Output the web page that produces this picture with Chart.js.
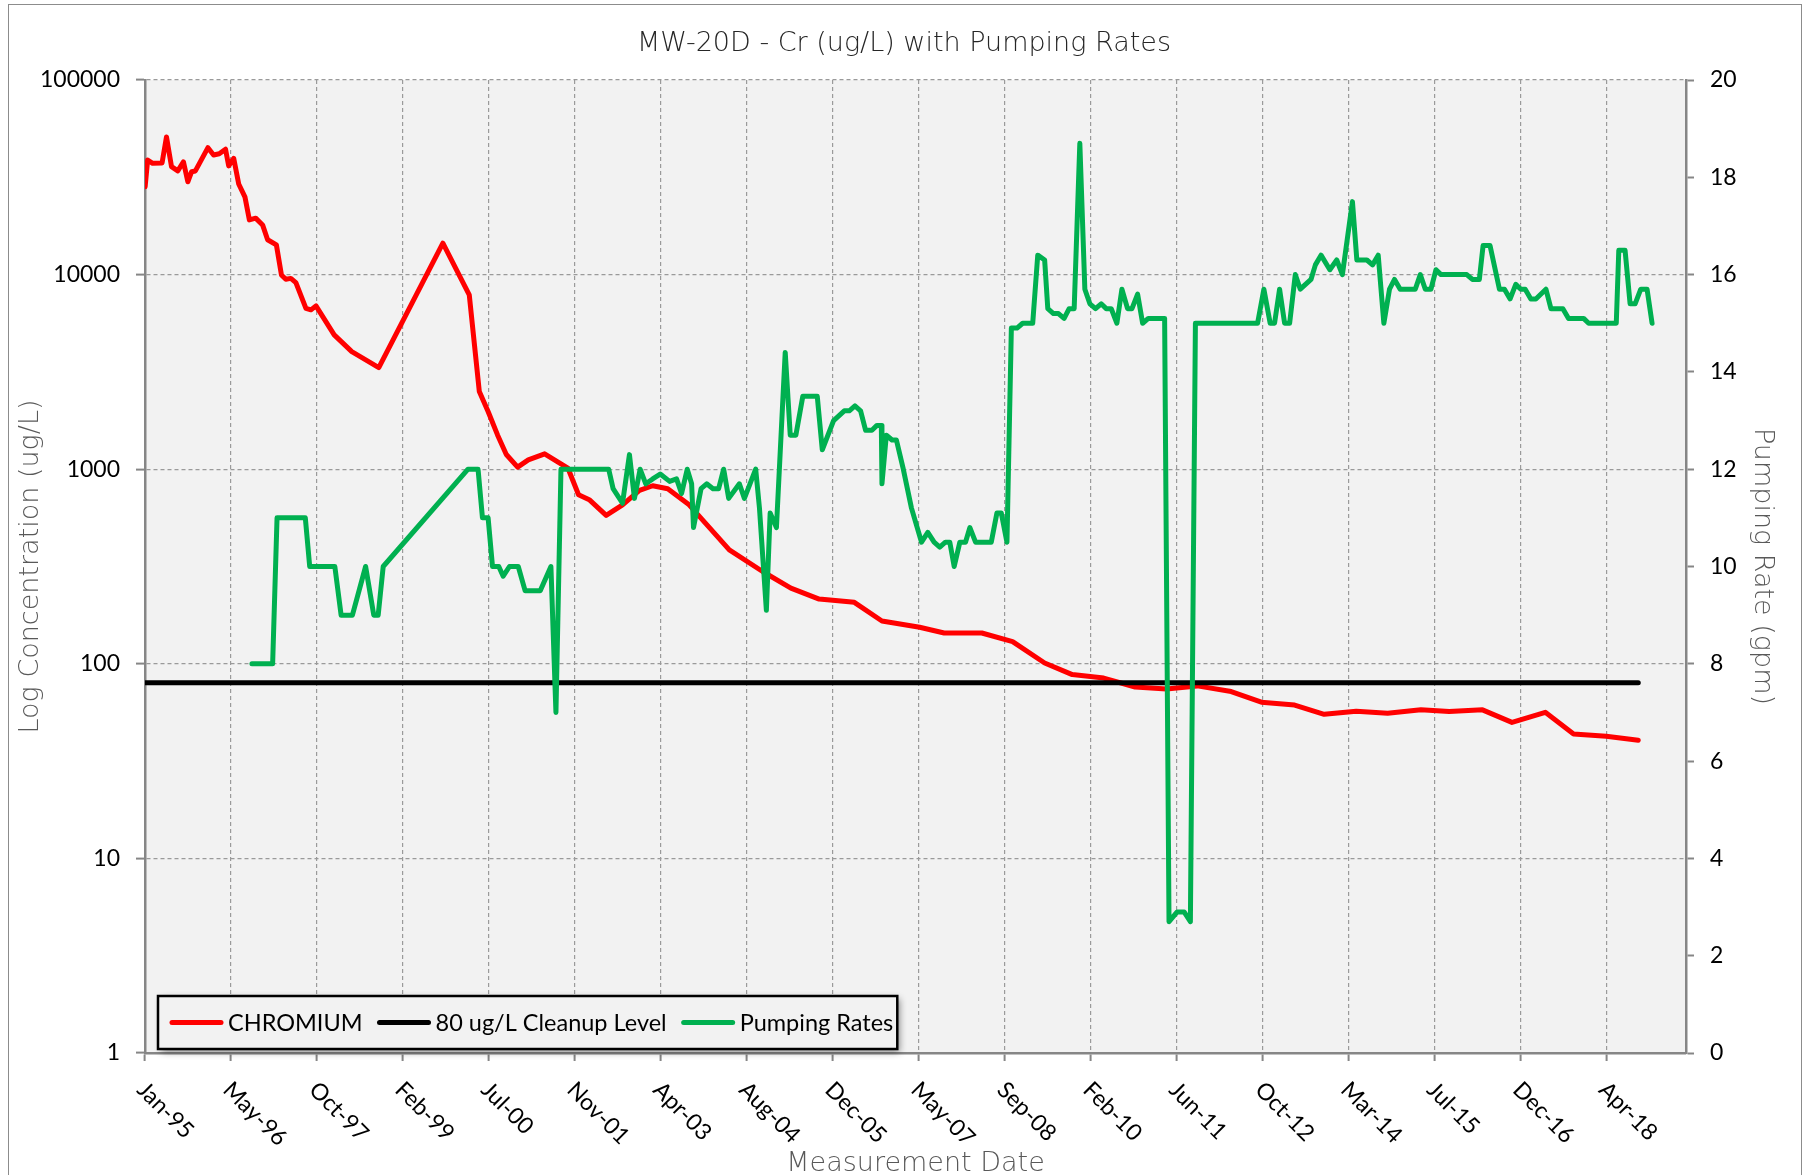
<!DOCTYPE html>
<html>
<head>
<meta charset="utf-8">
<title>MW-20D - Cr (ug/L) with Pumping Rates</title>
<script src="https://cdn.jsdelivr.net/npm/chart.js@4.4.0/dist/chart.umd.min.js"></script>
<style>
    html, body { margin: 0; padding: 0; background: #fff; }
    #wrap { width: 1808px; height: 1175px; }
</style>
</head>
<body>
<div id="wrap"><canvas id="crChart" width="1808" height="1175"></canvas></div>
<script>
/**
 * MW-20D chromium concentration vs. pumping rate
 * x values are decimal years
 */

// date axis: Excel style, major unit 500 days starting mid Jan 1995
const xTickLabels = ['Jan-95', 'May-96', 'Oct-97', 'Feb-99', 'Jul-00', 'Nov-01', 'Apr-03', 'Aug-04', 'Dec-05',
    'May-07', 'Sep-08', 'Feb-10', 'Jun-11', 'Oct-12', 'Mar-14', 'Jul-15', 'Dec-16', 'Apr-18'];
const X_START = 1995.038;
const X_STEP = 500 / 365.25;
const X_END = 2019.57;

// left axis (log) and right axis ticks
const concTicks = [1, 10, 100, 1000, 10000, 100000];
const rateMin = 0;
const rateMax = 20;
const rateStep = 2;

// CHROMIUM (ug/L)
const crYears = [
    1995.04, 1995.08, 1995.16, 1995.31, 1995.38, 1995.46, 1995.56, 1995.65, 1995.72, 1995.78,
    1995.84, 1996.04, 1996.13, 1996.22, 1996.32, 1996.37, 1996.45, 1996.53, 1996.63, 1996.70,
    1996.80, 1996.91, 1996.99, 1997.13, 1997.21, 1997.28, 1997.36, 1997.44, 1997.60, 1997.68,
    1997.76, 1998.05, 1998.33, 1998.76, 1999.78, 2000.20, 2000.36, 2000.50, 2000.65, 2000.79,
    2000.97, 2001.14, 2001.40, 2001.77, 2001.94, 2002.11, 2002.38, 2002.64, 2002.91, 2003.12,
    2003.36, 2003.70, 2004.34, 2004.87, 2005.32, 2005.77, 2006.33, 2006.77, 2007.37, 2007.76,
    2008.36, 2008.85, 2009.36, 2009.80, 2010.30, 2010.80, 2011.30, 2011.79, 2012.33, 2012.81,
    2013.34, 2013.81, 2014.32, 2014.82, 2015.35, 2015.80, 2016.33, 2016.80, 2017.33, 2017.78,
    2018.30, 2018.81
];
const crValues = [
    28300, 38800, 37300, 37500, 51000, 35900, 34100, 38000, 30000, 33800,
    34100, 44900, 41200, 41800, 44100, 36200, 39600, 29200, 25000, 19100,
    19500, 18000, 15100, 14200, 9960, 9460, 9560, 9100, 6710, 6590,
    6910, 4900, 4020, 3330, 14500, 7870, 2510, 1980, 1500, 1190,
    1025, 1117, 1200, 1014, 739, 697, 579, 656, 778, 822,
    793, 656, 385, 298, 245, 215, 207, 166, 154, 144,
    144, 130, 101, 88, 84.5, 76, 74.3, 77, 72, 63.5,
    61.4, 55, 57, 55.7, 58, 56.8, 58, 50, 56.3, 43.6,
    42.4, 40.5
];

// 80 ug/L cleanup level
const cleanupYears = [1995.04, 2018.81];
const cleanupValues = [80, 80];

// Pumping Rates (gpm)
const pumpYears = [
    1996.74, 1997.07, 1997.14, 1997.59, 1997.66, 1998.06, 1998.16, 1998.34, 1998.55, 1998.68,
    1998.75, 1998.83, 2000.18, 2000.34, 2000.41, 2000.50, 2000.57, 2000.67, 2000.74, 2000.84,
    2000.98, 2001.09, 2001.33, 2001.50, 2001.58, 2001.66, 2002.42, 2002.49, 2002.64, 2002.75,
    2002.83, 2002.92, 2003.01, 2003.12, 2003.24, 2003.39, 2003.50, 2003.58, 2003.67, 2003.74,
    2003.77, 2003.89, 2003.98, 2004.08, 2004.17, 2004.25, 2004.33, 2004.50, 2004.58, 2004.76,
    2004.82, 2004.93, 2004.99, 2005.09, 2005.23, 2005.31, 2005.40, 2005.51, 2005.74, 2005.82,
    2006.00, 2006.17, 2006.25, 2006.34, 2006.43, 2006.51, 2006.61, 2006.69, 2006.76, 2006.77,
    2006.84, 2006.93, 2007.00, 2007.11, 2007.24, 2007.40, 2007.50, 2007.60, 2007.69, 2007.78,
    2007.85, 2007.92, 2008.01, 2008.10, 2008.17, 2008.26, 2008.51, 2008.60, 2008.67, 2008.76,
    2008.83, 2008.92, 2009.01, 2009.17, 2009.25, 2009.36, 2009.41, 2009.50, 2009.58, 2009.67,
    2009.75, 2009.83, 2009.92, 2010.00, 2010.08, 2010.17, 2010.26, 2010.34, 2010.42, 2010.51,
    2010.59, 2010.68, 2010.75, 2010.84, 2010.92, 2011.01, 2011.27, 2011.34, 2011.47, 2011.58,
    2011.68, 2011.76, 2012.75, 2012.85, 2012.95, 2013.02, 2013.10, 2013.18, 2013.26, 2013.35,
    2013.43, 2013.60, 2013.67, 2013.76, 2013.90, 2014.01, 2014.10, 2014.26, 2014.33, 2014.49,
    2014.58, 2014.67, 2014.76, 2014.85, 2014.93, 2015.02, 2015.26, 2015.34, 2015.42, 2015.51,
    2015.59, 2015.67, 2016.08, 2016.17, 2016.28, 2016.34, 2016.45, 2016.60, 2016.68, 2016.77,
    2016.86, 2016.94, 2017.01, 2017.10, 2017.18, 2017.34, 2017.42, 2017.61, 2017.70, 2017.94,
    2018.02, 2018.46, 2018.50, 2018.60, 2018.68, 2018.76, 2018.85, 2018.95, 2019.03
];
const pumpRates = [
    8, 8, 11, 11, 10, 10, 9, 9, 10, 9,
    9, 10, 12, 12, 11, 11, 10, 10, 9.8, 10,
    10, 9.5, 9.5, 10, 7, 12, 12, 11.6, 11.3, 12.3,
    11.4, 12, 11.7, 11.8, 11.9, 11.75, 11.8, 11.5, 12, 11.7,
    10.8, 11.6, 11.7, 11.6, 11.6, 12, 11.4, 11.7, 11.4, 12,
    11.2, 9.1, 11.1, 10.8, 14.4, 12.7, 12.7, 13.5, 13.5, 12.4,
    13.0, 13.2, 13.2, 13.3, 13.2, 12.8, 12.8, 12.9, 12.9, 11.7,
    12.7, 12.6, 12.6, 12.0, 11.2, 10.5, 10.7, 10.5, 10.4, 10.5,
    10.5, 10.0, 10.5, 10.5, 10.8, 10.5, 10.5, 11.1, 11.1, 10.5,
    14.9, 14.9, 15, 15, 16.4, 16.3, 15.3, 15.2, 15.2, 15.1,
    15.3, 15.3, 18.7, 15.7, 15.4, 15.3, 15.4, 15.3, 15.3, 15,
    15.7, 15.3, 15.3, 15.6, 15, 15.1, 15.1, 2.7, 2.9, 2.9,
    2.7, 15, 15, 15.7, 15, 15, 15.7, 15, 15, 16,
    15.7, 15.9, 16.2, 16.4, 16.1, 16.3, 16, 17.5, 16.3, 16.3,
    16.2, 16.4, 15, 15.7, 15.9, 15.7, 15.7, 16, 15.7, 15.7,
    16.1, 16, 16, 15.9, 15.9, 16.6, 16.6, 15.7, 15.7, 15.5,
    15.8, 15.7, 15.7, 15.5, 15.5, 15.7, 15.3, 15.3, 15.1, 15.1,
    15, 15, 16.5, 16.5, 15.4, 15.4, 15.7, 15.7, 15
];

const AXIS_COLOR = '#868686';
const GRID_COLOR = '#9a9a9a';
const PLOT_BG = '#f2f2f2';
const TICK_FONT = { family: 'Lato', size: 23 };
const LEGEND_FONT = { family: 'Lato', size: 23.5 };
const AXIS_TITLE_FONT = { family: 'DejaVu Sans', size: 27, weight: '200' };
const AXIS_TITLE_COLOR = '#595959';

class ChromiumChart {
    constructor(canvasId) {
        this.canvas = document.getElementById(canvasId);
        this.chart = null;
    }

    /**
     * pair x/y arrays into {x, y} points
     */
    toPoints(xs, ys) {
        return xs.map((x, i) => ({ x: x, y: ys[i] }));
    }

    buildDatasets() {
        const common = {
            pointRadius: 0,
            borderWidth: 5,
            tension: 0,
            borderJoinStyle: 'round',
            borderCapStyle: 'round',
            fill: false
        };
        return [
            {
                ...common,
                label: 'CHROMIUM',
                data: this.toPoints(crYears, crValues),
                borderColor: '#ff0000',
                yAxisID: 'y',
                order: 3
            },
            {
                ...common,
                label: '80 ug/L Cleanup Level',
                data: this.toPoints(cleanupYears, cleanupValues),
                borderColor: '#000000',
                yAxisID: 'y',
                order: 2
            },
            {
                ...common,
                label: 'Pumping Rates',
                data: this.toPoints(pumpYears, pumpRates),
                borderColor: '#00b050',
                yAxisID: 'y1',
                order: 1
            }
        ];
    }

    /**
     * white page, thin outer frame and grey plot area
     */
    backgroundPlugin() {
        return {
            id: 'plotBackground',
            beforeDraw(chart) {
                const { ctx, chartArea } = chart;
                ctx.save();
                ctx.fillStyle = '#ffffff';
                ctx.fillRect(0, 0, chart.width, chart.height);
                ctx.strokeStyle = '#8c8c8c';
                ctx.lineWidth = 1;
                ctx.strokeRect(8.5, 4.5, 1793, chart.height + 10);
                ctx.fillStyle = PLOT_BG;
                ctx.fillRect(chartArea.left, chartArea.top,
                    chartArea.right - chartArea.left, chartArea.bottom - chartArea.top);
                ctx.restore();
            }
        };
    }

    /**
     * date labels, rotated 45 degrees downwards from each tick
     */
    xLabelPlugin() {
        return {
            id: 'xDateLabels',
            afterDraw(chart) {
                const { ctx } = chart;
                const scale = chart.scales.x;
                ctx.save();
                ctx.font = `${TICK_FONT.size}px ${TICK_FONT.family}`;
                ctx.fillStyle = '#000000';
                ctx.textAlign = 'left';
                ctx.textBaseline = 'middle';
                scale.ticks.forEach((tick, i) => {
                    const px = scale.getPixelForValue(tick.value);
                    ctx.save();
                    ctx.translate(px - 4, scale.top + 33);
                    ctx.rotate(Math.PI / 4);
                    ctx.fillText(xTickLabels[i], 0, 0);
                    ctx.restore();
                });
                ctx.restore();
            }
        };
    }

    /**
     * boxed legend sitting in the lower left corner of the plot
     */
    legendPlugin() {
        return {
            id: 'boxLegend',
            afterDraw(chart) {
                const { ctx, chartArea } = chart;
                const items = chart.data.datasets;
                const sample = 53;
                const gap = 5;
                const itemGap = 15;
                const padL = 12;
                const padR = 4;
                const height = 53;
                const left = chartArea.left + 13;
                const top = chartArea.bottom - 57;

                ctx.save();
                ctx.font = `${LEGEND_FONT.size}px ${LEGEND_FONT.family}`;
                let width = padL + padR;
                items.forEach((ds, i) => {
                    width += sample + gap + ctx.measureText(ds.label).width;
                    if (i < items.length - 1) width += itemGap;
                });

                ctx.shadowColor = 'rgba(0, 0, 0, 0.45)';
                ctx.shadowBlur = 7;
                ctx.shadowOffsetX = 3;
                ctx.shadowOffsetY = 3;
                ctx.fillStyle = PLOT_BG;
                ctx.fillRect(left, top, width, height);
                ctx.shadowColor = 'transparent';
                ctx.lineWidth = 2.5;
                ctx.strokeStyle = '#000000';
                ctx.strokeRect(left, top, width, height);

                const cy = top + height / 2;
                let x = left + padL;
                ctx.textAlign = 'left';
                ctx.textBaseline = 'middle';
                items.forEach(ds => {
                    ctx.beginPath();
                    ctx.lineWidth = 5;
                    ctx.lineCap = 'round';
                    ctx.strokeStyle = ds.borderColor;
                    ctx.moveTo(x + 2, cy);
                    ctx.lineTo(x + sample - 2, cy);
                    ctx.stroke();
                    x += sample + gap;
                    ctx.fillStyle = '#000000';
                    ctx.fillText(ds.label, x, cy + 1);
                    x += ctx.measureText(ds.label).width + itemGap;
                });
                ctx.restore();
            }
        };
    }

    render() {
        const ctx = this.canvas.getContext('2d');

        this.chart = new Chart(ctx, {
            type: 'line',
            data: { datasets: this.buildDatasets() },
            plugins: [this.backgroundPlugin(), this.xLabelPlugin(), this.legendPlugin()],
            options: {
                responsive: false,
                animation: false,
                devicePixelRatio: 1,
                layout: { padding: 0 },
                plugins: {
                    legend: { display: false },
                    tooltip: { enabled: false },
                    title: {
                        display: true,
                        text: 'MW-20D - Cr (ug/L) with Pumping Rates',
                        color: '#262626',
                        font: { family: 'DejaVu Sans', size: 27, weight: '200', lineHeight: 1.2 },
                        padding: { top: 27.5, bottom: 20.1 }
                    }
                },
                scales: {
                    x: {
                        type: 'linear',
                        min: X_START,
                        max: X_END,
                        afterBuildTicks: scale => {
                            scale.ticks = xTickLabels.map((label, i) => ({ value: X_START + i * X_STEP }));
                        },
                        afterFit: scale => { scale.height = 122; },
                        ticks: { display: false, autoSkip: false },
                        grid: {
                            color: GRID_COLOR,
                            lineWidth: 1.2,
                            tickLength: 8,
                            tickColor: AXIS_COLOR,
                            tickWidth: 2,
                            tickBorderDash: []
                        },
                        border: { display: true, color: AXIS_COLOR, width: 2.5, dash: [4, 3] },
                        title: {
                            display: true,
                            text: 'Measurement Date',
                            color: AXIS_TITLE_COLOR,
                            font: { ...AXIS_TITLE_FONT, lineHeight: 1 },
                            padding: { top: 0, bottom: -2 }
                        }
                    },
                    y: {
                        type: 'logarithmic',
                        position: 'left',
                        min: concTicks[0],
                        max: concTicks[concTicks.length - 1],
                        afterBuildTicks: scale => {
                            scale.ticks = concTicks.map(v => ({ value: v }));
                        },
                        afterFit: scale => { scale.width = 145; },
                        ticks: {
                            autoSkip: false,
                            color: '#000000',
                            font: TICK_FONT,
                            padding: 16,
                            callback: v => String(v)
                        },
                        grid: {
                            color: GRID_COLOR,
                            lineWidth: 1.2,
                            tickLength: 9,
                            tickColor: AXIS_COLOR,
                            tickWidth: 2,
                            tickBorderDash: []
                        },
                        border: { display: true, color: AXIS_COLOR, width: 2.5, dash: [4, 3] },
                        title: {
                            display: true,
                            text: 'Log Concentration (ug/L)',
                            color: AXIS_TITLE_COLOR,
                            font: AXIS_TITLE_FONT,
                            padding: { top: 15, bottom: 0 }
                        }
                    },
                    y1: {
                        type: 'linear',
                        position: 'right',
                        min: rateMin,
                        max: rateMax,
                        afterFit: scale => { scale.width = 122; },
                        ticks: {
                            stepSize: rateStep,
                            autoSkip: false,
                            color: '#000000',
                            font: TICK_FONT,
                            padding: 16
                        },
                        grid: {
                            drawOnChartArea: false,
                            tickLength: 8,
                            tickColor: AXIS_COLOR,
                            tickWidth: 2
                        },
                        border: { display: true, color: AXIS_COLOR, width: 2.5 },
                        title: {
                            display: true,
                            text: 'Pumping Rate (gpm)',
                            color: AXIS_TITLE_COLOR,
                            font: AXIS_TITLE_FONT,
                            padding: { top: 30, bottom: 0 }
                        }
                    }
                }
            }
        });
    }
}

window.addEventListener('load', () => {
    const crChart = new ChromiumChart('crChart');
    crChart.render();
});
</script>
</body>
</html>
